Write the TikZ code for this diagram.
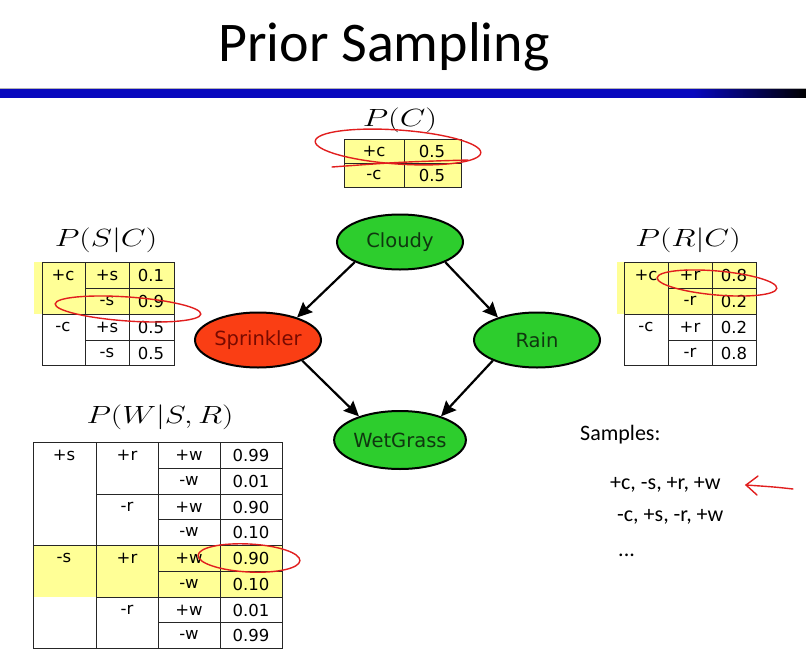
\documentclass[tikz,border=0pt]{standalone}
\usepackage{fontspec}
\setmainfont{Carlito}
\newfontfamily\tabfont{DejaVu Sans}
\usetikzlibrary{shapes.geometric,arrows.meta}
\definecolor{barblue}{RGB}{8,8,190}
\definecolor{tabyellow}{RGB}{255,255,150}
\definecolor{nodegreen}{RGB}{45,205,45}
\definecolor{nodered}{RGB}{250,62,20}
\definecolor{darkgreentext}{RGB}{15,55,15}
\definecolor{darkredtext}{RGB}{120,10,0}
\definecolor{redink}{RGB}{225,30,30}
\pgfdeclarehorizontalshading{barshade}{100bp}{color(0bp)=(barblue); color(68bp)=(barblue); color(75bp)=(black); color(100bp)=(black)}
\begin{document}
\begin{tikzpicture}[x=1pt,y=-1pt,
  cell/.style={font=\tabfont\fontsize{16.5}{18}\selectfont, inner sep=0pt, anchor=center},
  grid/.style={line width=0.8pt, black!85},
  mathlabel/.style={font=\fontsize{29}{32}\selectfont, inner sep=0pt},
  bnnode/.style={ellipse, draw, line width=2pt, minimum width=126pt, minimum height=55pt, inner sep=0pt, font=\tabfont\fontsize{19.5}{22}\selectfont},
  greennode/.style={bnnode, fill=nodegreen, text=darkgreentext},
  rednode/.style={bnnode, fill=nodered, text=darkredtext},
  edge/.style={line width=2.2pt, -{Stealth[length=15pt,width=14pt,inset=2pt]}},
  sample/.style={font=\fontsize{22}{24}\selectfont, anchor=west, inner sep=0pt},
  ink/.style={draw=redink, line width=1.4pt, line cap=round}
]
\useasboundingbox (0,0) rectangle (806,653);
% title and bar
\node[font=\fontsize{56}{60}\selectfont, anchor=base] (title) at (384,61) {Prior Sampling};
\shade[shading=barshade] (0,89) rectangle (806,97);
\draw[gray!60, line width=0.8pt] (0,88.5) -- (806,88.5);

% P(C)
\node[mathlabel] (pclabel) at (400,120) {\scalebox{1.33}[1]{$P(C)$}};
\fill[tabyellow] (344,139) rectangle (461,187);
\draw[grid] (344,139) rectangle (461,187) (344,163) -- (461,163) (404,139) -- (404,187);
\node[cell] (pc1) at (374,151) {+c};
\node[cell] (pc2) at (432,151) {0.5};
\node[cell] (pc3) at (374,175) {-c};
\node[cell] (pc4) at (432,175) {0.5};

% P(S|C)
\node[mathlabel] (pslabel) at (106,240) {\scalebox{1.29}[1]{$P(S|C)$}};
\fill[tabyellow] (34,262) rectangle (174,314);
\draw[grid] (42,262) rectangle (174,365) (85,262) -- (85,365) (129,262) -- (129,365)
  (42,314) -- (174,314) (85,288) -- (174,288) (85,340) -- (174,340);
\node[cell] (ps1) at (63,275) {+c};
\node[cell] (ps2) at (63,327) {-c};
\node[cell] (ps3) at (107,275) {+s};
\node[cell] (ps4) at (107,301) {-s};
\node[cell] (ps5) at (107,327) {+s};
\node[cell] (ps6) at (107,353) {-s};
\node[cell] (ps7) at (151,275) {0.1};
\node[cell] (ps8) at (151,301) {0.9};
\node[cell] (ps9) at (151,327) {0.5};
\node[cell] (ps10) at (151,353) {0.5};

% P(R|C)
\node[mathlabel] (prlabel) at (688,240) {\scalebox{1.29}[1]{$P(R|C)$}};
\fill[tabyellow] (617,262) rectangle (756,314);
\draw[grid] (624,262) rectangle (756,365) (668,262) -- (668,365) (712,262) -- (712,365)
  (624,314) -- (756,314) (668,288) -- (756,288) (668,340) -- (756,340);
\node[cell] (pr1) at (646,275) {+c};
\node[cell] (pr2) at (646,327) {-c};
\node[cell] (pr3) at (690,275) {+r};
\node[cell] (pr4) at (690,301) {-r};
\node[cell] (pr5) at (690,327) {+r};
\node[cell] (pr6) at (690,353) {-r};
\node[cell] (pr7) at (734,275) {0.8};
\node[cell] (pr8) at (734,301) {0.2};
\node[cell] (pr9) at (734,327) {0.2};
\node[cell] (pr10) at (734,353) {0.8};

% P(W|S,R)
\node[mathlabel] (pwlabel) at (160,417) {\scalebox{1.28}[1]{$P(W|S,R)$}};
\fill[tabyellow] (33,545) rectangle (282,597);
\draw[grid] (33,442) rectangle (282,648) (96,442) -- (96,648) (158,442) -- (158,648) (220,442) -- (220,648)
  (33,545) -- (282,545) (96,494) -- (282,494) (96,597) -- (282,597)
  (158,468) -- (282,468) (158,519) -- (282,519) (158,571) -- (282,571) (158,622) -- (282,622);
\node[cell] (pw1) at (64,455) {+s};
\node[cell] (pw2) at (64,558) {-s};
\node[cell] (pw3) at (127,455) {+r};
\node[cell] (pw4) at (127,507) {-r};
\node[cell] (pw5) at (127,558) {+r};
\node[cell] (pw6) at (127,610) {-r};
\foreach \y/\w/\v [count=\i] in {455/+w/0.99, 481/-w/0.01, 507/+w/0.90, 532/-w/0.10, 558/+w/0.90, 584/-w/0.10, 610/+w/0.01, 635/-w/0.99} {
  \node[cell] (pww\i) at (189,\y) {\w};
  \node[cell] (pwv\i) at (251,\y) {\v};
}

% network
\node[greennode] (cloudy) at (400,242) {Cloudy};
\node[rednode] (sprinkler) at (258,340) {Sprinkler};
\node[greennode] (rain) at (537,340) {Rain};
\node[greennode, minimum height=58pt] (wet) at (400,440) {WetGrass};
\draw[edge] (cloudy.204) -- (sprinkler.30);
\draw[edge] (cloudy.336) -- (rain.150);
\draw[edge] (sprinkler.335) -- (wet.150);
\draw[edge] (rain.205) -- (wet.30);

% samples
\node[sample] (samples) at (580,435) {Samples:};
\node[sample] (s1) at (610,485) {+c, -s, +r, +w};
\node[sample] (s2) at (617,517) {-c, +s, -r, +w};
\node[sample] (s3) at (618,555) {...};

% red ink
\draw[ink, rotate around={-4:(398,147)}] (398,147) ellipse [x radius=83, y radius=17];
\draw[ink] (332,167) .. controls (400,162) .. (468,160);
\draw[ink, rotate around={-4:(128,309)}] (128,309) ellipse [x radius=73, y radius=12];
\draw[ink, rotate around={-5:(717,283)}] (717,283) ellipse [x radius=60, y radius=12];
\draw[ink, rotate around={-3:(249,558)}] (249,558) ellipse [x radius=51, y radius=14];
\coordinate (arrtail) at (793,489);
\coordinate (arrtip) at (746,485);
\draw[ink] (arrtail) .. controls (775,487) .. (arrtip);
\draw[ink] (758,476) -- (arrtip) -- (757,495);
\end{tikzpicture}
\end{document}
